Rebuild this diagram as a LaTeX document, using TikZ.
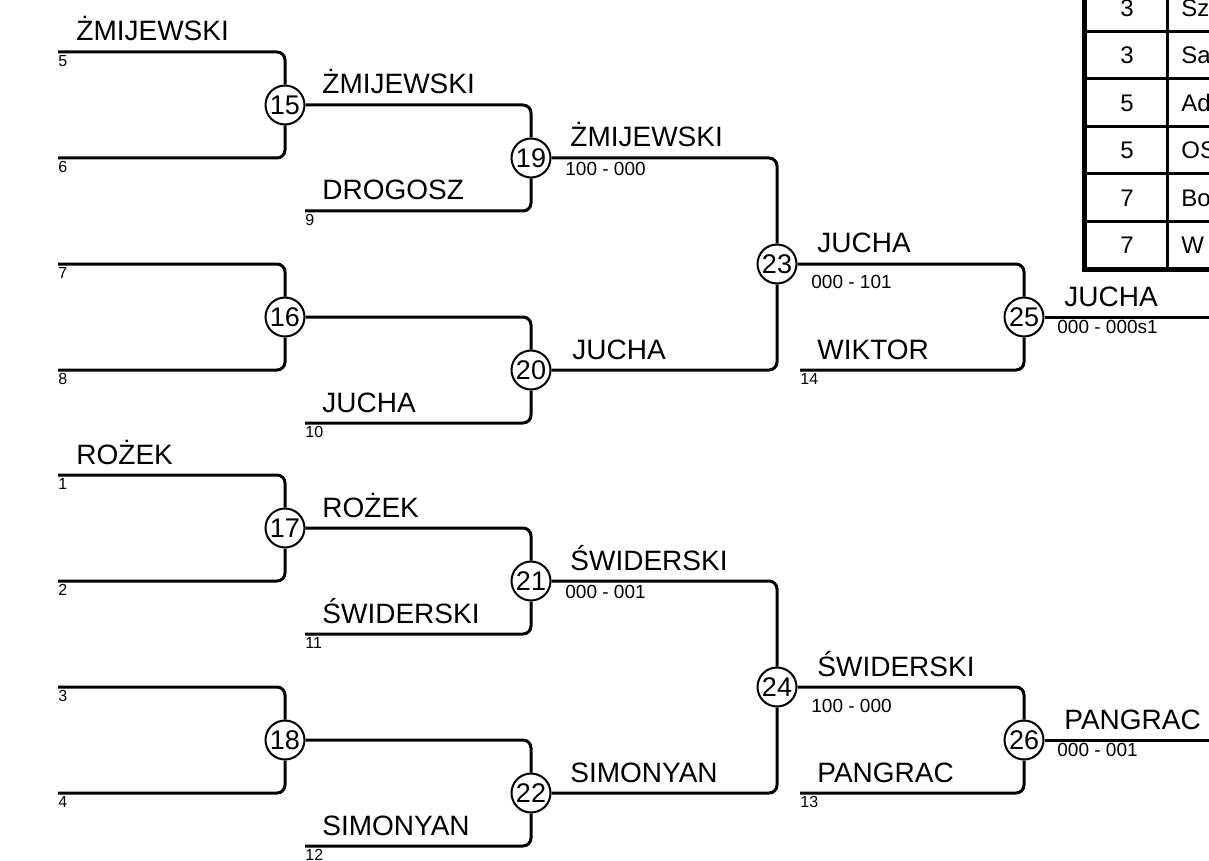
\documentclass[tikz,border=0pt]{standalone}
\usepackage{fontspec}
\setmainfont{Liberation Sans}
\usepackage{tikz}
\tikzstyle{bracket}=[draw=black, line width=1.5pt, rounded corners=4pt]
\tikzstyle{match}=[circle, draw, line width=1pt, fill=white, inner sep=0pt, minimum size=19.5pt, font=\fontsize{13.5}{14}\selectfont]
\tikzstyle{player}=[anchor=base west, inner sep=0pt, font=\fontsize{14}{16}\selectfont]
\tikzstyle{seed}=[anchor=north west, inner sep=0pt, font=\fontsize{8}{9}\selectfont]
\tikzstyle{score}=[anchor=north west, inner sep=0pt, font=\fontsize{9.5}{11}\selectfont]
\tikzstyle{cell}=[inner sep=0pt, font=\fontsize{12}{14}\selectfont]
\tikzstyle{grid}=[line width=1.5pt]
\tikzstyle{frame}=[line width=2.5pt]
\begin{document}
\begin{tikzpicture}[x=0.5pt, y=-0.5pt]
				\useasboundingbox (0,0) rectangle (1209,861);
				\clip (0,0) rectangle (1209,861);

				%The first round
				\coordinate (a5) at (58,52);
				\coordinate (a6) at (58,158);
				\coordinate (a7) at (58,264);
				\coordinate (a8) at (58,370);
				\coordinate (a1) at (58,475);
				\coordinate (a2) at (58,581);
				\coordinate (a3) at (58,687);
				\coordinate (a4) at (58,793);
				\node[seed] (s5) at (58,55) {5};
				\node[seed] (s6) at (58,161) {6};
				\node[seed] (s7) at (58,267) {7};
				\node[seed] (s8) at (58,373) {8};
				\node[seed] (s1) at (58,478) {1};
				\node[seed] (s2) at (58,584) {2};
				\node[seed] (s3) at (58,690) {3};
				\node[seed] (s4) at (58,796) {4};
				\node[player] (w5) at (76,41) {ŻMIJEWSKI};
				\node[player] (w1) at (76,464) {ROŻEK};

				\draw (285,105) node[match] (m15) {15};
				\draw (285,317) node[match] (m16) {16};
				\draw (285,528) node[match] (m17) {17};
				\draw (285,740) node[match] (m18) {18};

				%The second round
				\coordinate (a9) at (305,211);
				\coordinate (a10) at (305,423);
				\coordinate (a11) at (305,634);
				\coordinate (a12) at (305,846);
				\node[seed] (s9) at (305,214) {9};
				\node[seed] (s10) at (305,426) {10};
				\node[seed] (s11) at (305,637) {11};
				\node[seed] (s12) at (305,849) {12};
				\node[player] (w15) at (322,94) {ŻMIJEWSKI};
				\node[player] (w9) at (322,200) {DROGOSZ};
				\node[player] (w10) at (322,412) {JUCHA};
				\node[player] (w17) at (322,517) {ROŻEK};
				\node[player] (w11) at (322,623) {ŚWIDERSKI};
				\node[player] (w12) at (322,835) {SIMONYAN};

				\draw (531,158) node[match] (m19) {19};
				\draw (531,370) node[match] (m20) {20};
				\draw (531,581) node[match] (m21) {21};
				\draw (531,793) node[match] (m22) {22};

				%The third round
				\node[player] (w19) at (570,147) {ŻMIJEWSKI};
				\node[score] (r19) at (565,162) {100 - 000};
				\node[player] (w20) at (572,359) {JUCHA};
				\node[player] (w21) at (570,570) {ŚWIDERSKI};
				\node[score] (r21) at (565,585) {000 - 001};
				\node[player] (w22) at (570,782) {SIMONYAN};

				\draw (777,264) node[match] (m23) {23};
				\draw (777,687) node[match] (m24) {24};

				%The fourth round
				\coordinate (a14) at (800,370);
				\coordinate (a13) at (800,793);
				\node[seed] (s14) at (800,373) {14};
				\node[seed] (s13) at (800,796) {13};
				\node[player] (w23) at (817,253) {JUCHA};
				\node[score] (r23) at (811,275) {000 - 101};
				\node[player] (w14) at (817,359) {WIKTOR};
				\node[player] (w24) at (817,676) {ŚWIDERSKI};
				\node[score] (r24) at (811,699) {100 - 000};
				\node[player] (w13) at (817,782) {PANGRAC};

				\draw (1024,317) node[match] (m25) {25};
				\draw (1024,740) node[match] (m26) {26};

				%The winners
				\coordinate (e25) at (1215,317);
				\coordinate (e26) at (1215,740);
				\node[player] (w25) at (1064,306) {JUCHA};
				\node[score] (r25) at (1057,320) {000 - 000s1};
				\node[player] (w26) at (1064,729) {PANGRAC};
				\node[score] (r26) at (1057,743) {000 - 001};

				%The brackets
				\draw[bracket] (a5) -| (m15);
				\draw[bracket] (a6) -| (m15);
				\draw[bracket] (a7) -| (m16);
				\draw[bracket] (a8) -| (m16);
				\draw[bracket] (a1) -| (m17);
				\draw[bracket] (a2) -| (m17);
				\draw[bracket] (a3) -| (m18);
				\draw[bracket] (a4) -| (m18);

				\draw[bracket] (m15) -| (m19);
				\draw[bracket] (a9) -| (m19);
				\draw[bracket] (m16) -| (m20);
				\draw[bracket] (a10) -| (m20);
				\draw[bracket] (m17) -| (m21);
				\draw[bracket] (a11) -| (m21);
				\draw[bracket] (m18) -| (m22);
				\draw[bracket] (a12) -| (m22);

				\draw[bracket] (m19) -| (m23);
				\draw[bracket] (m20) -| (m23);
				\draw[bracket] (m21) -| (m24);
				\draw[bracket] (m22) -| (m24);

				\draw[bracket] (m23) -| (m25);
				\draw[bracket] (a14) -| (m25);
				\draw[bracket] (m24) -| (m26);
				\draw[bracket] (a13) -| (m26);

				\draw[bracket] (m25) -- (e25);
				\draw[bracket] (m26) -- (e26);

				%The placings
				\foreach \y in {32,79,127,174,222}
					\draw[grid] (1084,\y) -- (1240,\y);
				\draw[grid] (1167,-30) -- (1167,269);
				\draw[frame] (1084,-30) -- (1084,269) -- (1240,269);
				\node[cell] (p1) at (1127,8) {3};
				\node[cell] (p2) at (1127,55.5) {3};
				\node[cell] (p3) at (1127,103) {5};
				\node[cell] (p4) at (1127,150.5) {5};
				\node[cell] (p5) at (1127,198) {7};
				\node[cell] (p6) at (1127,245.5) {7};
				\node[cell, anchor=west] (q1) at (1181,8) {Sz};
				\node[cell, anchor=west] (q2) at (1181,55.5) {Sa};
				\node[cell, anchor=west] (q3) at (1181,103) {Ad};
				\node[cell, anchor=west] (q4) at (1181,150.5) {OS};
				\node[cell, anchor=west] (q5) at (1181,198) {Bo};
				\node[cell, anchor=west] (q6) at (1181,245.5) {W};
			\end{tikzpicture}
\end{document}
